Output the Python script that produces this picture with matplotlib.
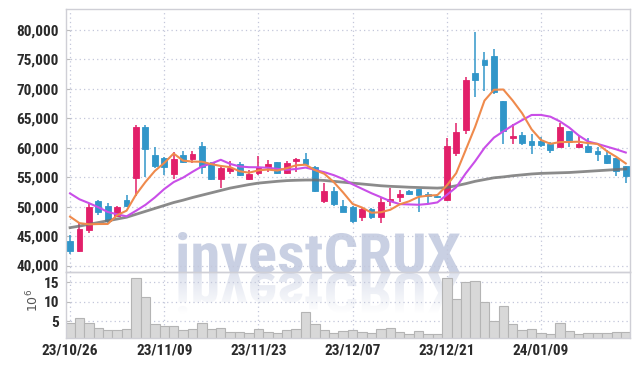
import matplotlib
matplotlib.use('Agg')
import matplotlib.pyplot as plt
import numpy as np
from matplotlib.textpath import TextPath
from matplotlib.font_manager import FontProperties, fontManager
from matplotlib.path import Path
from matplotlib.patches import PathPatch
from matplotlib.colors import to_rgb

# ---------------- data ----------------
tick_idx = [0, 10, 20, 30, 40, 50]
tick_labels = ['23/10/26', '23/11/09', '23/11/23', '23/12/07', '23/12/21', '24/01/09']

opens = [44200, 42500, 46100, 51000, 50050, 48450, 51100, 54900, 63600, 58800,
         58300, 55500, 58750, 58050, 60300, 57350, 54650, 56070, 57300, 54630,
         55700, 56700, 57500, 55730, 57740, 58050, 56750, 50950, 52600, 50050,
         50000, 48250, 49550, 48200, 50900, 51650, 52650, 52950, 52150, 51850,
         51130, 59170, 63050, 72700, 74950, 75585, 67940, 61580, 62170, 61140,
         61170, 60660, 60200, 62870, 60110, 60320, 59520, 58700, 58230, 56930]
highs = [45100, 47300, 50400, 51200, 50700, 50100, 52000, 63900, 63800, 60100,
         58500, 59300, 59400, 59400, 60900, 57600, 56850, 57800, 57500, 56300,
         58550, 57900, 57600, 57700, 58250, 59100, 56900, 54100, 53400, 51200,
         50100, 49700, 49700, 51500, 53250, 52900, 52750, 53050, 52450, 52100,
         61600, 64150, 71950, 79600, 76350, 76750, 68000, 64070, 62700, 62300,
         61800, 61000, 64130, 62900, 62230, 61580, 60200, 59630, 58250, 56950]
lows = [41900, 42300, 45500, 48500, 47300, 48350, 49900, 51800, 55000, 56600,
        55300, 54750, 57400, 57450, 55500, 54500, 53200, 55550, 55200, 54500,
        55400, 55800, 55600, 55600, 55950, 57100, 52500, 50700, 50100, 49100,
        47200, 47500, 47900, 47300, 50150, 50800, 51900, 49150, 50700, 51450,
        51000, 58600, 62400, 68680, 69680, 69150, 60590, 60650, 60400, 59000,
        60050, 59150, 60050, 60100, 59890, 59100, 57760, 57300, 55230, 54060]
closes = [42500, 46200, 50000, 49100, 47500, 49950, 50050, 63600, 59800, 56900,
          56750, 58050, 57600, 58950, 56780, 54700, 56500, 56600, 55450, 55600,
          56660, 57200, 55730, 57450, 58050, 57200, 52600, 52600, 50400, 49150,
          47550, 49550, 48200, 50800, 51250, 52150, 52150, 51950, 51850, 51700,
          60300, 62650, 71510, 71510, 74060, 69530, 62880, 62050, 60800, 60450,
          60400, 59640, 63540, 60900, 60660, 59230, 58950, 57370, 56020, 55150]

ma5 = [48300, 47200, 47000, 47050, 47060, 48550, 49320, 52040, 54180, 56060,
       57420, 59020, 57820, 57650, 57630, 57220, 56910, 56710, 56010, 55770,
       56160, 56300, 56130, 56530, 57020, 57130, 56210, 55580, 54170, 52390,
       50460, 49850, 48970, 49050, 49470, 50390, 50910, 51660, 51870, 51960,
       53590, 55690, 59600, 63530, 68010, 69850, 69900, 68010, 65860, 63140,
       61320, 60670, 60970, 60990, 61030, 60790, 60660, 59420, 58450, 57340]
ma10 = [52250, 51250, 50600, 49900, 49100, 48700, 48350, 49300, 50300, 51560,
        52990, 54170, 54930, 55920, 56840, 57320, 57960, 57260, 56830, 56700,
        56690, 56600, 56420, 56270, 56390, 56640, 56250, 55850, 55350, 54700,
        53790, 53030, 52280, 51610, 50930, 50430, 50380, 50320, 50460, 50720,
        51990, 53300, 55630, 57700, 59980, 61720, 62790, 63800, 64700, 65570,
        65580, 65280, 64490, 63430, 62090, 61060, 60660, 60190, 59720, 59190]
ma60 = [46430, 46700, 47000, 47300, 47600, 47900, 48200, 48700, 49200, 49700,
        50200, 50700, 51100, 51550, 51950, 52350, 52750, 53150, 53450, 53750,
        54000, 54150, 54300, 54420, 54480, 54520, 54530, 54450, 54300, 54150,
        54000, 53850, 53700, 53550, 53450, 53380, 53300, 53250, 53200, 53150,
        53250, 53550, 53900, 54300, 54600, 54900, 55050, 55250, 55400, 55550,
        55650, 55700, 55750, 55800, 55900, 56000, 56100, 56200, 56300, 56400]

volume = [4.6, 5.7, 4.4, 3.1, 2.6, 2.6, 2.85, 16.1, 11.1, 4.2,
          3.6, 3.6, 2.6, 2.85, 4.4, 2.85, 3.1, 2.1, 2.1, 1.8,
          2.85, 2.1, 1.8, 2.6, 2.85, 7.25, 4.2, 2.6, 1.8, 2.4,
          2.6, 2.1, 1.8, 2.85, 3.1, 2.1, 1.55, 2.4, 1.55, 1.55,
          16.1, 10.6, 15.0, 15.4, 9.8, 5.0, 8.8, 4.1, 2.6, 2.85,
          2.0, 1.55, 4.4, 2.4, 1.55, 1.8, 1.8, 1.8, 2.1, 2.1]

# ---------------- style ----------------
available = {f.name for f in fontManager.ttflist}
cands = ['Liberation Sans Narrow', 'DejaVu Sans Condensed', 'Roboto Condensed', 'Roboto', 'DejaVu Sans']
FONT = [f for f in cands if f in available] or ['DejaVu Sans']
narrow = FONT[0] in ('Liberation Sans Narrow', 'DejaVu Sans Condensed', 'Roboto Condensed')
LSIZE = 11 if narrow else 10.2
LWEIGHT = 'bold'
plt.rcParams['font.family'] = FONT
UP = '#e2206a'
DOWN = '#3196c9'
GRID = '#c3c7da'
SPINE = '#cfcfd6'
TXT = '#2a2a2a'

W, H = 639, 366
fig = plt.figure(figsize=(W / 100, H / 100), dpi=100)
fig.patch.set_facecolor('white')

# watermark axes (pixel coordinates, y down)
wax = fig.add_axes([0, 0, 1, 1], zorder=-1)
wax.set_axis_off()

fp = FontProperties(family=FONT, weight='bold')
tp = TextPath((0, 0), 'investCRUX', size=50, prop=fp)
verts = tp.vertices.copy()
codes = tp.codes
xmin, xmax = verts[:, 0].min(), verts[:, 0].max()
ymin, ymax = 0.0, verts[:, 1].max()
bx0, bx1, base, top = 175, 460, 273, 232
sx = (bx1 - bx0) / (xmax - xmin)
sy = (base - top) / (ymax - ymin)
v_main = np.column_stack([bx0 + (verts[:, 0] - xmin) * sx, base - (verts[:, 1] - ymin) * sy])
v_refl = np.column_stack([bx0 + (verts[:, 0] - xmin) * sx, base + (verts[:, 1] - ymin) * sy])
WM = '#c9d0e3'
wax.add_patch(PathPatch(Path(v_main, codes), facecolor=WM, edgecolor='none'))
refl_patch = PathPatch(Path(v_refl, codes), facecolor='none', edgecolor='none')
wax.add_patch(refl_patch)
grad = np.zeros((100, 2, 4))
grad[..., :3] = to_rgb(WM)
grad[..., 3] = np.linspace(0.6, 0.0, 100)[:, None]
im = wax.imshow(grad, extent=[bx0, bx1, base + (base - top), base], origin='upper',
                aspect='auto', interpolation='bilinear')
im.set_clip_path(refl_patch)
wax.set_xlim(0, W)
wax.set_ylim(H, 0)

# price axes
L, R = 66 / W, 630 / W
ax = fig.add_axes([L, 1 - 272 / H, R - L, (272 - 9) / H])
ax.set_facecolor('none')
axv = fig.add_axes([L, 1 - 338 / H, R - L, (338 - 272) / H], sharex=ax)
axv.set_facecolor('none')

x = np.arange(len(closes))
o = np.array(opens); c = np.array(closes); hi = np.array(highs); lo = np.array(lows)
cols = [UP if cc >= oo else DOWN for oo, cc in zip(o, c)]

ax.vlines(x, lo, hi, colors=cols, linewidth=1.1, zorder=2)
bottoms = np.minimum(o, c)
heights = np.maximum(np.abs(c - o), 80)
ax.bar(x, heights, bottom=bottoms, width=0.62, color=cols, edgecolor=cols,
       linewidth=0.6, zorder=3)

ax.plot(x, ma60, color='#6e6e6e', linewidth=2.0, alpha=0.8, zorder=4)
ax.plot(x, ma10, color='#c94ee8', linewidth=1.5, zorder=5)
ax.plot(x, ma5, color='#ef8a4c', linewidth=1.5, zorder=6)

ax.set_xlim(-0.43, 59.45)
ax.set_ylim(38900, 83570)
yt = list(range(40000, 80001, 5000))
ax.set_yticks(yt)
ax.set_yticklabels([f'{v:,}' for v in yt], fontweight=LWEIGHT)
ax.tick_params(axis='y', direction='in', length=3, color='#bbbbbb', pad=5,
               labelsize=LSIZE, labelcolor=TXT)
ax.tick_params(axis='x', length=0, labelbottom=False)
ax.set_xticks(tick_idx)
ax.grid(True, color=GRID, linestyle=(0, (1, 2.5)), linewidth=0.9)
ax.set_axisbelow(True)
for s in ax.spines.values():
    s.set_color(SPINE)
    s.set_linewidth(1.0)

# volume axes
axv.bar(x, volume, width=1.0, color='#d8d8d8', edgecolor='#b4b4b4', linewidth=0.8, zorder=2)
axv.set_ylim(0.6, 17.7)
axv.set_yticks([5, 10, 15])
axv.set_yticklabels(['5', '10', '15'], fontweight=LWEIGHT)
axv.set_xticks(tick_idx)
axv.set_xticklabels(tick_labels, fontweight=LWEIGHT)
axv.tick_params(axis='y', direction='in', length=3, color='#bbbbbb', pad=5,
                labelsize=LSIZE, labelcolor=TXT)
axv.tick_params(axis='x', length=0, pad=4, labelsize=LSIZE, labelcolor=TXT)
axv.grid(True, color=GRID, linestyle=(0, (1, 2.5)), linewidth=0.9)
axv.set_axisbelow(True)
for s in axv.spines.values():
    s.set_color(SPINE)
    s.set_linewidth(1.0)

fig.text(33 / W, 1 - 300 / H, r'$10^6$', rotation=90, ha='center', va='center',
         fontsize=9, color='#555555', family='DejaVu Serif')

fig.savefig('out.png', dpi=100)
